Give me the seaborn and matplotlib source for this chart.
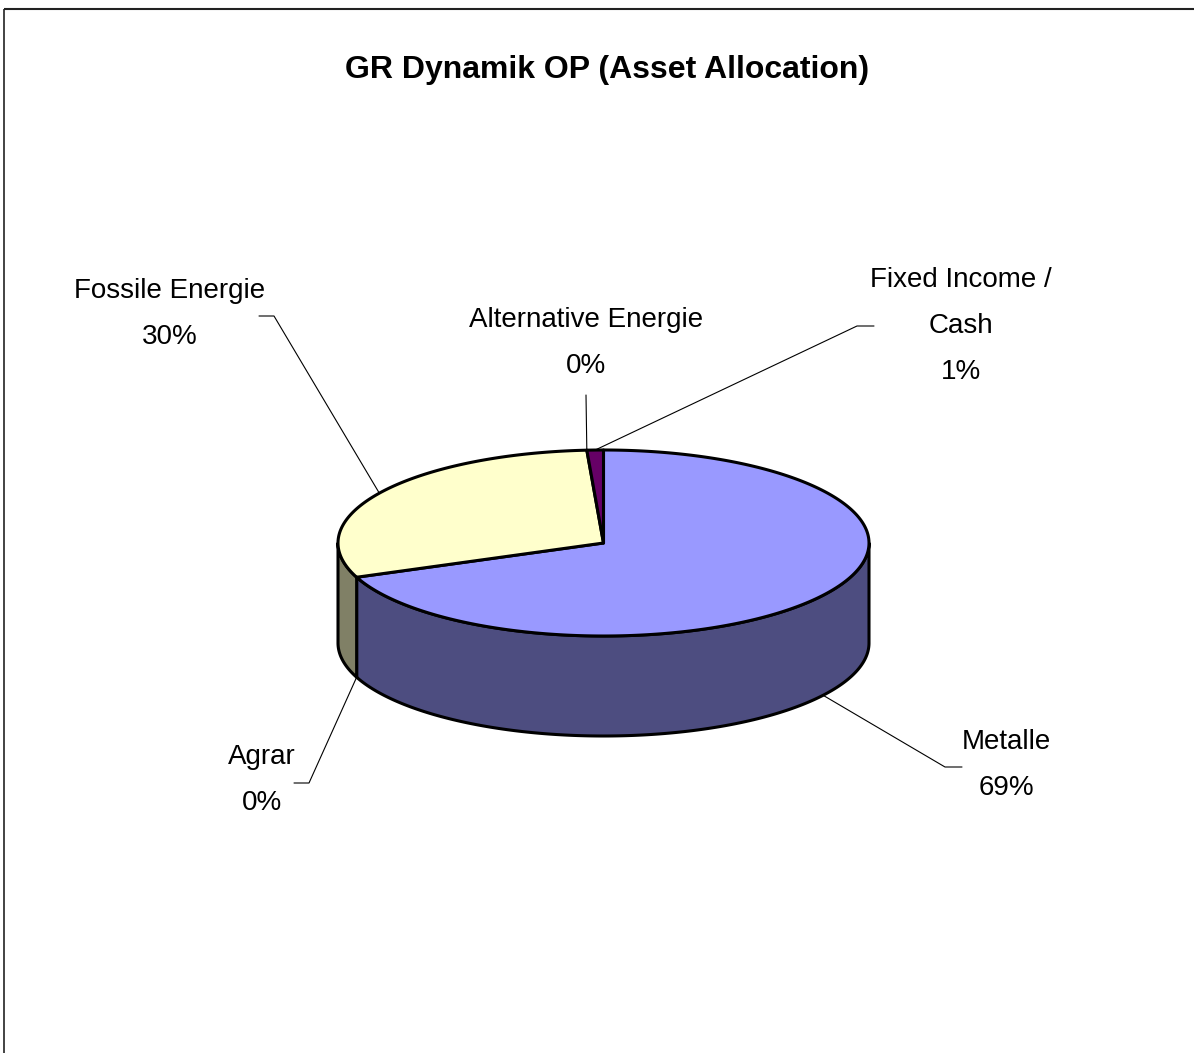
import numpy as np
import matplotlib
matplotlib.use("Agg")
import matplotlib.pyplot as plt
from matplotlib.patches import Polygon
import seaborn as sns

# data
categories = ['Metalle', 'Agrar', 'Fossile Energie', 'Alternative Energie', 'Fixed Income /\nCash']
shares = [69, 0, 30, 0, 1]
top_colors = ['#9999ff', '#808040', '#ffffcc', '#33cccc', '#660066']
side_colors = ['#4d4d80', '#404020', '#808066', '#1a6666', '#330033']

sns.set_theme(style='white')
plt.rcParams['font.family'] = ['Liberation Sans', 'DejaVu Sans']

W, H = 1194, 1053
fig = plt.figure(figsize=(W / 100, H / 100), dpi=100)
ax = fig.add_axes([0, 0, 1, 1])
ax.set_xlim(0, W)
ax.set_ylim(H, 0)
ax.axis('off')

# pie geometry (pixel layout)
cx, cy, a, b, depth = 603.5, 543, 265.5, 93, 100


def pt(t, dy=0):
    t = np.radians(t)
    return cx + a * np.sin(t), cy - b * np.cos(t) + dy


def arc(t1, t2, dy=0):
    n = max(int(abs(t2 - t1)) * 2, 2)
    ts = np.linspace(t1, t2, n)
    return [pt(t, dy) for t in ts]


vals = np.array(shares, dtype=float)
edges = np.concatenate([[0], np.cumsum(vals) / vals.sum() * 360])

# side walls (front half only, 90..270 deg clockwise from top)
for i in range(len(vals)):
    t1, t2 = max(edges[i], 90), min(edges[i + 1], 270)
    if t2 - t1 <= 0.01:
        continue
    poly = arc(t1, t2) + arc(t2, t1, depth)
    ax.add_patch(Polygon(poly, closed=True, facecolor=side_colors[i],
                         edgecolor='black', lw=2.2, joinstyle='round'))

# top faces
for i in range(len(vals)):
    t1, t2 = edges[i], edges[i + 1]
    if t2 - t1 <= 0.01:
        continue
    poly = [(cx, cy)] + arc(t1, t2)
    ax.add_patch(Polygon(poly, closed=True, facecolor=top_colors[i],
                         edgecolor='black', lw=2.2, joinstyle='round'))

# labels with leader lines
label_pos = [(1006, 765, 'left'), (262, 780, 'right'), (170, 314, 'right'),
             (586, 343, 'bottom'), (961, 326, 'left')]
for i, (lx, ly, side) in enumerate(label_pos):
    txt = categories[i] + '\n' + '%d%%' % round(vals[i] / vals.sum() * 100)
    ax.text(lx, ly, txt, ha='center', va='center', fontsize=20,
            linespacing=1.98, color='black')
    mid = (edges[i] + edges[i + 1]) / 2
    front = 90 < mid < 270
    px, py = pt(mid, depth if front else 0)
    if side == 'left':
        hx = lx - 61 if i == 0 else lx - 104
        hy = ly + 2 if i == 0 else ly
        ax.plot([hx + 17, hx, px], [hy, hy, py], color='black', lw=0.8)
    elif side == 'right':
        hx = lx + 32 if i == 1 else lx + 89
        hy = ly + 3 if i == 1 else ly + 2
        ax.plot([hx, hx + 15, px], [hy, hy, py], color='black', lw=0.8)
    else:
        ax.plot([lx, px], [ly + 52, py], color='black', lw=0.8)

ax.text(607, 70, 'GR Dynamik OP (Asset Allocation)', ha='center', va='center',
        fontsize=23, fontweight='bold', color='black')

# chart frame (top and left edges visible)
ax.plot([4, W], [9, 9], color='#222222', lw=1.5, solid_capstyle='butt')
ax.plot([4, 4], [9, H], color='#222222', lw=1.2, solid_capstyle='butt')

fig.savefig('out.png', dpi=100)
